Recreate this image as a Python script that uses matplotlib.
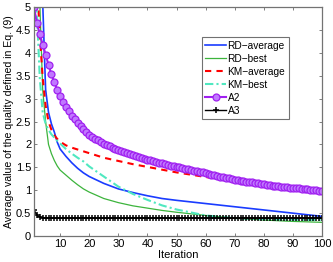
import numpy as np
import matplotlib
matplotlib.use("Agg")
import matplotlib.pyplot as plt

plt.rcParams['font.family'] = ['Liberation Sans', 'DejaVu Sans']

xs = [1, 2, 3, 4, 5, 6, 7, 8, 9, 10, 12, 14, 16, 18, 20, 25, 30, 35, 40, 45, 50, 60, 70, 80, 90, 100]

rd_average = [40, 20, 9, 5.1, 3.2, 2.7, 2.45, 2.27, 2.05, 1.9, 1.74, 1.6, 1.48, 1.38, 1.3,
              1.15, 1.03, 0.95, 0.88, 0.82, 0.78, 0.71, 0.64, 0.57, 0.5, 0.43]
rd_best = [30, 12, 5.1, 3.2, 2.5, 2.0, 1.8, 1.65, 1.53, 1.44, 1.33, 1.22, 1.12, 1.03, 0.96,
           0.82, 0.73, 0.66, 0.61, 0.56, 0.52, 0.45, 0.39, 0.35, 0.32, 0.30]
km_average = [12, 5.6, 4.4, 3.45, 2.85, 2.5, 2.32, 2.2, 2.12, 2.06, 1.98, 1.93, 1.89, 1.85, 1.81,
              1.71, 1.64, 1.57, 1.51, 1.45, 1.39, 1.29, 1.19, 1.11, 1.04, 0.97]
km_best = [8, 4.9, 3.45, 2.7, 2.45, 2.32, 2.22, 2.15, 2.08, 2.02, 1.9, 1.8, 1.71, 1.63, 1.52,
           1.30, 1.08, 0.92, 0.79, 0.67, 0.58, 0.45, 0.39, 0.37, 0.36, 0.35]

# marker series, one value per iteration 1..100
a2 = [5.00, 4.65, 4.41, 4.18, 3.96, 3.74, 3.53, 3.36, 3.19, 3.05,
      2.93, 2.82, 2.72, 2.63, 2.55, 2.47, 2.40, 2.33, 2.27, 2.21,
      2.17, 2.13, 2.09, 2.05, 2.02, 1.99, 1.96, 1.93, 1.90, 1.88,
      1.85, 1.83, 1.81, 1.79, 1.77, 1.75, 1.73, 1.71, 1.69, 1.67,
      1.65, 1.64, 1.62, 1.60, 1.59, 1.57, 1.56, 1.54, 1.53, 1.51,
      1.50, 1.48, 1.47, 1.46, 1.44, 1.43, 1.42, 1.40, 1.39, 1.37,
      1.36, 1.34, 1.33, 1.32, 1.30, 1.29, 1.27, 1.26, 1.24, 1.23,
      1.22, 1.21, 1.20, 1.19, 1.18, 1.17, 1.16, 1.15, 1.14, 1.13,
      1.12, 1.11, 1.10, 1.10, 1.09, 1.08, 1.07, 1.07, 1.06, 1.05,
      1.04, 1.04, 1.03, 1.02, 1.02, 1.01, 1.00, 1.00, 0.99, 0.98]
a3 = [0.57, 0.46, 0.41, 0.40, 0.395, 0.39, 0.39, 0.39, 0.39, 0.39,
      0.39, 0.39, 0.39, 0.39, 0.39, 0.39, 0.39, 0.39, 0.39, 0.39,
      0.39, 0.39, 0.39, 0.39, 0.39, 0.39, 0.39, 0.39, 0.39, 0.39,
      0.39, 0.39, 0.39, 0.39, 0.39, 0.39, 0.39, 0.39, 0.39, 0.39,
      0.39, 0.39, 0.39, 0.39, 0.39, 0.39, 0.39, 0.39, 0.39, 0.39,
      0.39, 0.39, 0.39, 0.39, 0.39, 0.39, 0.39, 0.39, 0.39, 0.39,
      0.39, 0.39, 0.39, 0.39, 0.39, 0.39, 0.39, 0.39, 0.39, 0.39,
      0.39, 0.39, 0.39, 0.39, 0.39, 0.39, 0.39, 0.39, 0.39, 0.39,
      0.39, 0.39, 0.39, 0.39, 0.39, 0.39, 0.39, 0.39, 0.39, 0.39,
      0.39, 0.39, 0.39, 0.39, 0.39, 0.39, 0.39, 0.39, 0.39, 0.39]
iters = np.arange(1, len(a2) + 1)

fig = plt.figure(figsize=(3.33, 2.62), dpi=100)
ax = fig.add_axes([0.102, 0.099, 0.865, 0.874])

ax.plot(xs, rd_average, color="#1a3cff", lw=1.2, label="RD\u2212average")
ax.plot(xs, rd_best, color="#3cb43c", lw=0.9, label="RD\u2212best")
ax.plot(xs, km_average, color="red", lw=1.5, ls=(0, (3, 2.5)), label="KM\u2212average")
ax.plot(xs, km_best, color="#50e8c0", lw=1.5, ls=(0, (4, 1.5, 1, 1.5)), label="KM\u2212best")
ax.plot(iters, a2, color="#a020f0", lw=1.5, marker="o", ms=5, mfc="#c078ff",
        mec="#a020f0", mew=0.9, label="A2")
ax.plot(iters, a3, color="black", lw=1.0, marker="+", ms=5, mew=1.1, label="A3")

ax.set_xlim(1, 100)
ax.set_ylim(0, 5)
ax.set_xticks(range(10, 101, 10))
ax.set_yticks(np.arange(0, 5.01, 0.5))
ax.set_yticklabels(["%g" % v for v in np.arange(0, 5.01, 0.5)])
ax.tick_params(direction="in", top=True, right=True, labelsize=8, length=2.5,
               width=0.5, pad=2, color="0.3")
for s in ax.spines.values():
    s.set_color("0.45")
    s.set_linewidth(0.9)

ax.set_xlabel("Iteration", fontsize=8, labelpad=1)
ax.set_ylabel("Average value of the quality defined in Eq. (9)", fontsize=7.6, labelpad=1)

leg = ax.legend(loc="upper right", bbox_to_anchor=(0.885, 0.869), fontsize=7.3,
                frameon=True, fancybox=False, edgecolor="0.3", handlelength=2.05,
                handletextpad=0.15, labelspacing=0.3, borderpad=0.35, borderaxespad=0)
leg.get_frame().set_linewidth(0.8)

fig.savefig("out.png", dpi=100)
